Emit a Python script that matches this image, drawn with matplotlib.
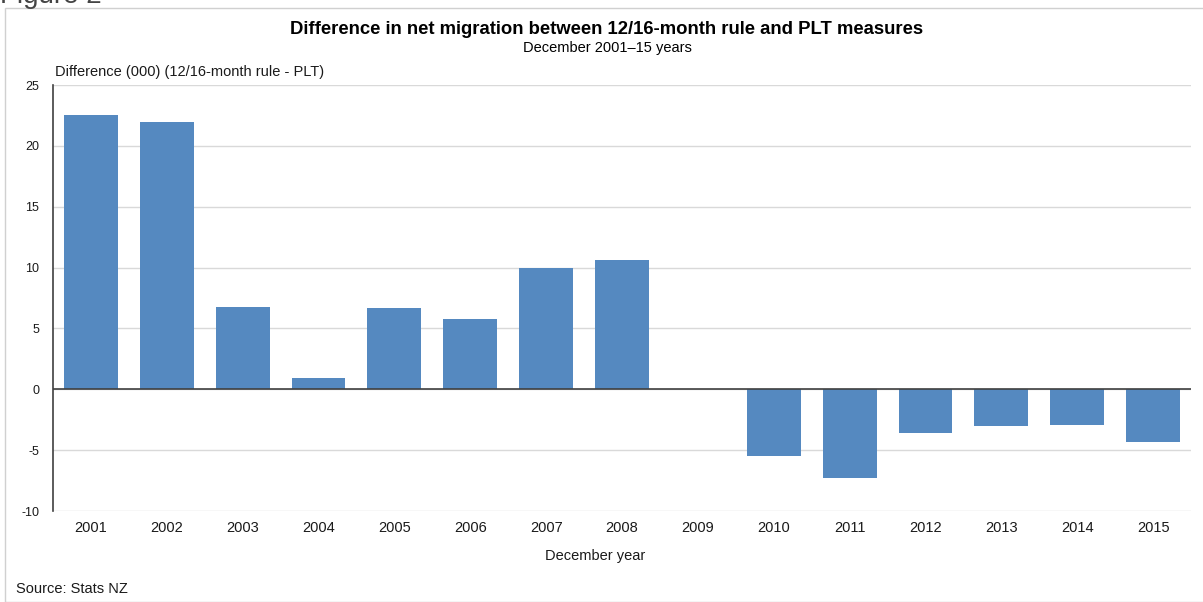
import numpy as np
import matplotlib.pyplot as plt
from matplotlib.patches import Rectangle

plt.rcParams['font.family'] = ['Liberation Sans', 'DejaVu Sans']

years = ['2001', '2002', '2003', '2004', '2005', '2006', '2007', '2008',
         '2009', '2010', '2011', '2012', '2013', '2014', '2015']
diff = [22.5, 22.0, 6.8, 0.9, 6.7, 5.8, 10.0, 10.6,
        0.0, -5.45, -7.3, -3.6, -3.05, -2.97, -4.35]
yticks = [-10, -5, 0, 5, 10, 15, 20, 25]

fig = plt.figure(figsize=(12.03, 6.02), dpi=100)
ax = fig.add_axes([53/1203, 1 - 511/602, 1138/1203, (511 - 85)/602])

x = np.arange(len(years))
ax.bar(x, diff, width=0.71, color='#5589c0', zorder=3)

ax.set_xlim(-0.5, len(years) - 0.5)
ax.set_ylim(-10, 25)
ax.set_yticks(yticks)
ax.set_xticks(x)
ax.set_xticklabels(years, fontsize=10.5, color='#1a1a1a')
ax.set_yticklabels([str(v) for v in yticks], fontsize=9, color='#1a1a1a')
ax.tick_params(axis='both', length=0)
ax.tick_params(axis='y', pad=10)
ax.tick_params(axis='x', pad=7)

ax.grid(axis='y', color='#d9d9d9', linewidth=1, zorder=0)
ax.axhline(0, color='#404040', linewidth=1.2, zorder=4)
for s in ['top', 'right', 'bottom']:
    ax.spines[s].set_visible(False)
ax.spines['left'].set_color('#404040')
ax.spines['left'].set_linewidth(1.2)

# outer frame
fig.patches.append(Rectangle((5/1203, 0), 1.0, 1 - 8/602, transform=fig.transFigure,
                             fill=False, edgecolor='#d0d0d0', linewidth=1))

fig.text(0.0, 1 - 3/602, 'Figure 2', fontsize=20, color='#444444', va='baseline', ha='left')
fig.text(607/1203, 1 - 30/602, 'Difference in net migration between 12/16-month rule and PLT measures',
         fontsize=13.3, fontweight='bold', ha='center', va='center')
fig.text(607/1203, 1 - 48/602, 'December 2001\u201315 years', fontsize=10.5, ha='center', va='center')
fig.text(55/1203, 1 - 72/602, 'Difference (000) (12/16-month rule - PLT)', fontsize=10.5,
         ha='left', va='center', color='#1a1a1a')
fig.text(595/1203, 1 - 556/602, 'December year', fontsize=10.5, ha='center', va='center', color='#1a1a1a')
fig.text(16/1203, 1 - 589/602, 'Source: Stats NZ', fontsize=10.5, ha='left', va='center', color='#1a1a1a')

fig.savefig('out.png', dpi=100)
